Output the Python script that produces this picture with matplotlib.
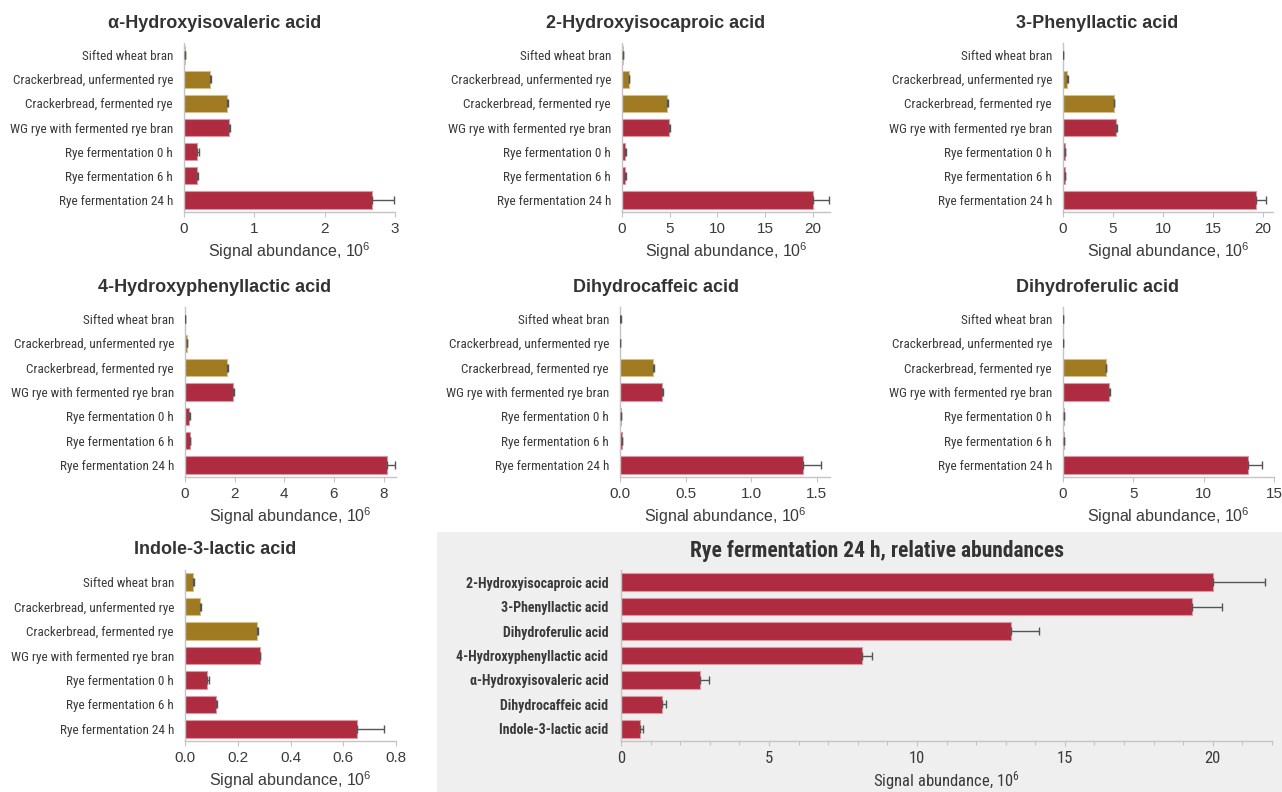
import numpy as np
import matplotlib
matplotlib.use("Agg")
from matplotlib import pyplot as plt
from matplotlib import font_manager
from matplotlib.patches import Rectangle
from matplotlib.ticker import MultipleLocator

################################################### # Data # ##################################################

samples = ["Sifted wheat bran", "Crackerbread, unfermented rye", "Crackerbread, fermented rye",
           "WG rye with fermented rye bran", "Rye fermentation 0 h", "Rye fermentation 6 h",
           "Rye fermentation 24 h"]
sample_group = ["gold", "gold", "gold", "red", "red", "red", "red"]

hiv = [0.01, 0.37, 0.61, 0.64, 0.19, 0.18, 2.67]
hiv_err = [0.004, 0.01, 0.01, 0.01, 0.02, 0.02, 0.32]

hica = [0.08, 0.7, 4.7, 4.9, 0.3, 0.3, 20.0]
hica_err = [0.02, 0.08, 0.1, 0.1, 0.1, 0.1, 1.7]

pla = [0.0, 0.4, 5.05, 5.3, 0.17, 0.15, 19.3]
pla_err = [0.0, 0.05, 0.08, 0.1, 0.05, 0.05, 1.0]

hpla = [0.01, 0.07, 1.68, 1.95, 0.16, 0.19, 8.13]
hpla_err = [0.003, 0.02, 0.04, 0.04, 0.03, 0.03, 0.34]

dhca = [0.003, 0.0, 0.253, 0.32, 0.008, 0.013, 1.396]
dhca_err = [0.001, 0.0, 0.006, 0.006, 0.003, 0.003, 0.134]

dhfa = [0.0, 0.0, 3.03, 3.26, 0.04, 0.07, 13.17]
dhfa_err = [0.0, 0.0, 0.05, 0.06, 0.02, 0.03, 0.97]

ila = [0.032, 0.057, 0.274, 0.283, 0.085, 0.119, 0.654]
ila_err = [0.002, 0.002, 0.003, 0.003, 0.005, 0.004, 0.102]

acids_24h = ["2-Hydroxyisocaproic acid", "3-Phenyllactic acid", "Dihydroferulic acid",
             "4-Hydroxyphenyllactic acid", "α-Hydroxyisovaleric acid", "Dihydrocaffeic acid",
             "Indole-3-lactic acid"]
val_24h = [20.0, 19.3, 13.17, 8.13, 2.67, 1.396, 0.654]
err_24h = [1.75, 1.0, 0.97, 0.34, 0.32, 0.134, 0.102]

################################################################################################################################

W, H = 1282, 792
red = "#AE2B40"
gold = "#A07A20"
edge = {"red": "#D99AA4", "gold": "#D6C08A"}
fill = {"red": red, "gold": gold}
spine_c = "#C4C4C4"
text_c = "#3A3A3A"

names = {f.name for f in font_manager.fontManager.ttflist}
narrow = "Liberation Sans"
for cand in ["Roboto Condensed", "PT Sans Narrow", "Archivo Narrow", "Liberation Sans Narrow"]:
    if cand in names:
        narrow = cand
        break
nfam = [narrow, "DejaVu Sans"]
plt.rcParams["font.family"] = ["Liberation Sans", "DejaVu Sans"]

fig = plt.figure(figsize=(W / 100, H / 100), dpi=100)

# grey box behind the summary panel
fig.patches.append(Rectangle((437 / W, 0), 1 - 437 / W, 1 - 532 / H, transform=fig.transFigure,
                             facecolor="#EFEFEF", edgecolor="none", zorder=-5))


def px_axes(x0, y0, x1, y1):
    return fig.add_axes([x0 / W, 1 - y1 / H, (x1 - x0) / W, (y1 - y0) / H])


def style_axes(ax, face=None):
    for s in ["top", "right"]:
        ax.spines[s].set_visible(False)
    for s in ["left", "bottom"]:
        ax.spines[s].set_color(spine_c)
        ax.spines[s].set_linewidth(1.0)
    ax.tick_params(axis="y", length=0, pad=8)
    ax.tick_params(axis="x", length=3.5, width=0.8, color=spine_c, pad=4, labelcolor=text_c)
    if face is not None:
        ax.set_facecolor(face)
    else:
        ax.patch.set_alpha(0)


#------------------------------------------------------------------------------------------------------------------------------#
# the seven per-acid panels

panels = [
    ("α-Hydroxyisovaleric acid", hiv, hiv_err, (184, 43, 395, 212), 3.0, [0, 1, 2, 3], "{:.0f}", 215),
    ("2-Hydroxyisocaproic acid", hica, hica_err, (622, 43, 830, 212), 21.8, [0, 5, 10, 15, 20], "{:.0f}", 656),
    ("3-Phenyllactic acid", pla, pla_err, (1063, 43, 1273, 212), 21.0, [0, 5, 10, 15, 20], "{:.0f}", 1097),
    ("4-Hydroxyphenyllactic acid", hpla, hpla_err, (185, 307, 396, 477), 8.5, [0, 2, 4, 6, 8], "{:.0f}", 215),
    ("Dihydrocaffeic acid", dhca, dhca_err, (620, 307, 830, 477), 1.6, [0, 0.5, 1.0, 1.5], "{:.1f}", 656),
    ("Dihydroferulic acid", dhfa, dhfa_err, (1063, 307, 1274, 477), 15.0, [0, 5, 10, 15], "{:.0f}", 1097),
    ("Indole-3-lactic acid", ila, ila_err, (185, 570, 396, 741), 0.8, [0, 0.2, 0.4, 0.6, 0.8], "{:.1f}", 215),
]

y = np.arange(len(samples))

for title, vals, errs, box, xmax, ticks, fmt, tx in panels:
    ax = px_axes(*box)
    style_axes(ax)
    cols = [fill[g] for g in sample_group]
    ecols = [edge[g] for g in sample_group]
    ax.barh(y, vals, height=0.72, color=cols, edgecolor=ecols, linewidth=0.8, zorder=2)
    ax.errorbar(vals, y, xerr=[np.zeros(len(vals)), errs], fmt="none", ecolor="#555555",
                elinewidth=1.0, capsize=3, capthick=1.0, zorder=3)
    ax.set_ylim(len(samples) - 0.5, -0.5)
    ax.set_xlim(0, xmax)
    ax.set_xticks(ticks)
    ax.set_xticklabels([fmt.format(t) for t in ticks], fontsize=11)
    ax.set_yticks(y)
    ax.set_yticklabels(samples, fontsize=9.5, family=nfam, color=text_c)
    ax.set_xlabel(r"Signal abundance, $\mathregular{10^6}$", fontsize=11.5, color=text_c, labelpad=3)
    fig.text(tx / W, 1 - (box[1] - 20) / H, title, ha="center", va="center", fontsize=13,
             fontweight="bold", color="#333333")

#------------------------------------------------------------------------------------------------------------------------------#
# summary panel, 24 h

ax8 = px_axes(621, 570, 1272, 741)
style_axes(ax8, face="#EFEFEF")
ax8.barh(y, val_24h, height=0.72, color=red, edgecolor=edge["red"], linewidth=0.8, zorder=2)
ax8.errorbar(val_24h, y, xerr=[np.zeros(len(val_24h)), err_24h], fmt="none", ecolor="#555555",
             elinewidth=1.0, capsize=3, capthick=1.0, zorder=3)
ax8.set_ylim(len(acids_24h) - 0.5, -0.5)
ax8.set_xlim(0, 22)
ax8.xaxis.set_major_locator(MultipleLocator(5))
ax8.xaxis.set_minor_locator(MultipleLocator(1))
ax8.tick_params(axis="x", which="minor", length=3, width=0.8, color=spine_c)
ax8.set_yticks(y)
ax8.set_yticklabels(acids_24h, fontsize=10, fontweight="bold", family=nfam, color=text_c)
for lab in ax8.get_xticklabels():
    lab.set_family(nfam)
    lab.set_fontsize(12)
ax8.tick_params(axis="y", pad=9)
ax8.set_xlabel(r"Signal abundance, $\mathregular{10^6}$", fontsize=12, color=text_c, labelpad=2,
               family=nfam)
fig.text(877 / W, 1 - 551 / H, "Rye fermentation 24 h, relative abundances", ha="center", va="center",
         fontsize=15.5, fontweight="bold", color="#333333", family=nfam)

plt.savefig("out.png", dpi=100)
